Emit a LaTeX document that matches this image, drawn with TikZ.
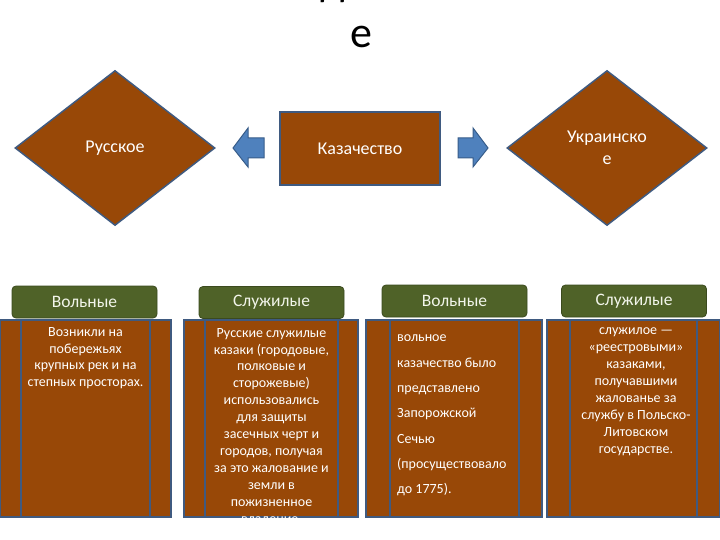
\documentclass[tikz,border=0pt]{standalone}
\usepackage{fontspec}
\setmainfont{Carlito}
\usetikzlibrary{shapes.geometric}
\definecolor{brn}{HTML}{984807}
\definecolor{grn}{HTML}{4F6228}
\definecolor{edg}{HTML}{3F5A80}
\definecolor{arw}{HTML}{4F81BD}
\definecolor{arwedge}{HTML}{385D8A}
\definecolor{hdrtxt}{HTML}{F2F5EA}
\begin{document}
\begin{tikzpicture}[x=1pt,y=-1pt,
  diam/.style={diamond, draw=edg, line width=1.5pt, fill=brn, minimum width=200pt, minimum height=155pt, inner sep=0pt, text=white, align=center, font=\fontsize{18}{22}\selectfont},
  mainbox/.style={rectangle, draw=edg, line width=1.5pt, fill=brn, minimum width=160pt, minimum height=73pt, inner sep=0pt, text=white, font=\fontsize{18}{22}\selectfont},
  blockarrow/.style={fill=arw, draw=arwedge, line width=1pt, line join=miter},
  hdr/.style={rectangle, rounded corners=4pt, fill=grn, draw=grn!75!black, line width=0.8pt, minimum width=145pt, minimum height=32pt, inner sep=0pt, text=hdrtxt, font=\fontsize{17.5}{21}\selectfont},
  bodyfill/.style={fill=brn},
  bodyline/.style={draw=edg, line width=1.2pt},
  bodytxt/.style={inner sep=0pt, text=white, align=center, anchor=north, font=\fontsize{14}{16.9}\selectfont},
  titletxt/.style={inner sep=0pt, anchor=base, text=black, font=\fontsize{44}{50}\selectfont}
]
\useasboundingbox (0,0) rectangle (720,540);
\fill[white] (0,0) rectangle (720,540);

% title (cut off at the top)
\node[titletxt] (t1) at (333,-4) {д};
\node[titletxt] (t2) at (361,48) {е};

% top row
\node[diam] (rus) at (115,148) {Русское};
\node[diam] (ukr) at (607,148) {Украинско\\е};
\node[mainbox] (kaz) at (360,148.5) {Казачество};

\path[blockarrow] (233,148) -- (248,128) -- (248,138) -- (264,138) -- (264,158) -- (248,158) -- (248,167) -- cycle;
\path[blockarrow] (488,148) -- (473,128) -- (473,138) -- (458,138) -- (458,158) -- (473,158) -- (473,167) -- cycle;

% body boxes
\newcommand{\bodybox}[4]{%
  \path[bodyfill] (#1,320) rectangle (#4,517);
  \draw[bodyline] (#1,320) rectangle (#4,517);
  \draw[bodyline] (#2,320) -- (#2,517);
  \draw[bodyline] (#3,320) -- (#3,517);
}
\bodybox{0}{21}{150}{171}
\bodybox{184}{205}{338}{358}
\bodybox{366}{390}{519}{542}
\bodybox{547}{570}{697}{720}

% headers
\node[hdr] (h1) at (84.5,302) {Вольные};
\node[hdr] (h2) at (271.5,302.5) {Служилые};
\node[hdr] (h3) at (454.5,301) {Вольные};
\node[hdr] (h4) at (634,301) {Служилые};

% texts
\node[bodytxt] (b1) at (85.5,327) {Возникли на\\побережьях\\крупных рек и на\\степных просторах.};
\begin{scope}
\clip (184,320) rectangle (358,517);
\node[bodytxt] (b2) at (271.5,328) {Русские служилые\\казаки (городовые,\\полковые и\\сторожевые)\\использовались\\для защиты\\засечных черт и\\городов, получая\\за это жалование и\\земли в\\пожизненное\\владение.};
\end{scope}
\node[bodytxt, anchor=north west, align=left, font=\fontsize{14}{25.3}\selectfont] (b3) at (397,335) {вольное\\казачество было\\представлено\\Запорожской\\Сечью\\(просуществовало\\до 1775).};
\node[bodytxt] (b4) at (636,328) {служилое —\\«реестровыми»\\казаками,\\получавшими\\жалованье за\\службу в Польско-\\Литовском\\государстве.};
\end{tikzpicture}
\end{document}
